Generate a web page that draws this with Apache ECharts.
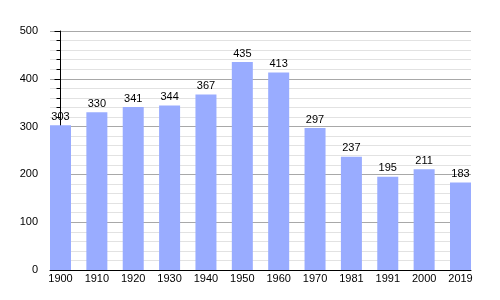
<!DOCTYPE html>
<html><head><meta charset="utf-8">
<script src="https://cdn.jsdelivr.net/npm/echarts@6/dist/echarts.min.js"></script>
<style>html,body{margin:0;padding:0;background:#fff}#c{width:500px;height:300px}</style>
</head><body><div id="c"></div>
<script>
const categories = ['1900','1910','1920','1930','1940','1950','1960','1970','1981','1991','2000','2019'];
const population = [303,330,341,344,367,435,413,297,237,195,211,183];
const yTicks = [0,100,200,300,400,500];

const pad = 0.2888;
const chart = echarts.init(document.getElementById('c'));
chart.setOption({
  animation: false,
  grid: {left: 50, right: 29, top: 31, bottom: 30},
  xAxis: {
    type: 'value',
    min: -pad, max: categories.length - 1 + pad,
    axisLine: {show: true, onZero: false, lineStyle: {color: '#000', width: 1}},
    axisTick: {show: false},
    splitLine: {show: false},
    axisLabel: {
      customValues: categories.map((c, i) => i),
      formatter: v => categories[Math.round(v)],
      color: '#000', fontFamily: 'Liberation Sans', fontSize: 11, margin: 3
    }
  },
  yAxis: {
    type: 'value', min: yTicks[0], max: yTicks[yTicks.length-1], interval: 100,
    axisLine: {show: true, lineStyle: {color: '#000', width: 1}},
    axisTick: {show: true, length: 6, lineStyle: {color: '#000'}},
    minorTick: {show: true, splitNumber: 5, length: 4, lineStyle: {color: '#000'}},
    splitLine: {show: true, lineStyle: {color: '#a8a8a8', width: 1}},
    minorSplitLine: {show: true, lineStyle: {color: '#e2e2e2', width: 1}},
    axisLabel: {color: '#000', fontFamily: 'Liberation Sans', fontSize: 11, margin: 12}
  },
  series: [{
    type: 'bar',
    data: population.map((v, i) => [i, v]),
    barWidth: 21,
    itemStyle: {color: '#99acff'},
    label: {show: true, position: 'top', distance: 3, color: '#000', fontFamily: 'Liberation Sans', fontSize: 11,
      formatter: p => p.value[1]}
  }]
});
</script></body></html>
